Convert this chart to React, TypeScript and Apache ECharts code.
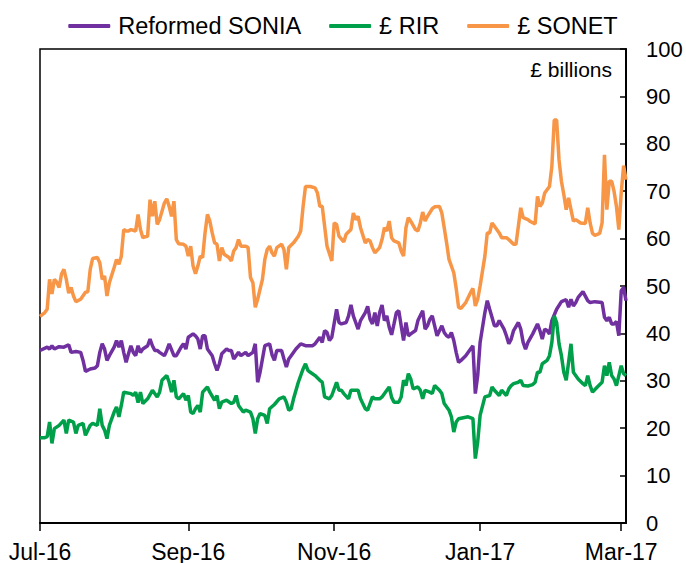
import React, { useEffect, useRef } from "react";
import * as echarts from "echarts";

// day 0 = 1 Jul 2016 ... day 245 = 3 Mar 2017
const totalDays = 246;
const tickDays = [0, 62, 123, 184, 243];
const tickLabels = ["Jul-16", "Sep-16", "Nov-16", "Jan-17", "Mar-17"];

const seriesNames = ["Reformed SONIA", "£ RIR", "£ SONET"];
const seriesColors = ["#7030A0", "#00A04A", "#F79646"];

const soniaDays = [0,3,4,5,6,8,10,12,13,15,17,18,19,21,23,24,25,26,27,28,29,31,32,33,34,35,36,37,38,39,40,41,42,43,45,46,47,48,49,50,52,53,54,56,57,59,60,61,62,64,65,66,67,68,69,70,72,73,74,75,76,78,79,80,81,83,84,86,87,89,90,91,92,93,94,96,97,98,99,101,102,103,104,105,107,109,111,112,114,115,117,118,119,120,121,122,124,125,126,128,129,130,131,132,133,134,136,137,138,139,140,141,142,143,144,145,146,147,148,149,150,151,152,153,154,155,157,158,160,161,162,163,164,165,166,168,169,170,171,172,173,174,175,176,178,180,181,182,183,184,186,187,188,190,191,192,194,195,196,197,198,200,201,202,203,204,206,208,209,210,211,212,213,214,216,218,220,221,222,223,224,225,227,229,230,232,235,236,237,238,239,240,241,242,243,244,245];
const soniaValues = [36.4,37.1,36.7,37.4,36.7,37.2,37.1,37.6,36.0,36.2,36.0,34.3,32.0,32.5,32.7,33.2,36.0,37.8,36.7,34.3,35.3,37.1,38.5,37.1,38.5,36.0,33.9,35.7,37.4,36.0,35.3,37.4,36.0,36.7,37.4,38.8,37.4,36.4,36.4,36.0,35.3,36.4,37.8,35.3,35.3,37.1,37.8,36.7,39.2,39.9,39.5,38.8,36.7,39.5,39.5,36.7,35.3,33.6,32.2,33.6,35.7,36.7,36.4,36.4,34.6,36.0,35.3,36.0,35.3,36.0,37.8,29.7,31.8,34.6,37.4,37.8,35.5,34.3,36.4,36.4,34.6,32.9,34.6,35.3,36.7,37.8,37.4,37.4,37.4,37.8,39.2,38.1,40.6,40.2,38.5,39.2,45.1,42.3,42.0,42.3,43.7,46.0,43.7,42.3,40.9,42.7,44.4,45.7,43.0,42.0,44.4,41.6,44.4,46.0,42.7,43.7,41.3,39.7,42.0,44.4,44.8,41.6,38.5,42.3,39.5,39.9,40.6,42.7,44.8,40.9,41.6,43.0,43.7,41.6,39.5,41.6,40.2,39.5,39.2,40.2,38.5,36.0,33.9,34.3,35.3,36.7,37.4,27.3,31.1,38.1,44.4,46.9,45.1,41.6,41.6,42.7,40.9,39.5,37.8,38.8,40.6,42.3,40.9,38.1,36.7,38.1,39.9,42.0,40.6,38.8,40.9,40.6,39.9,42.7,45.1,46.7,47.1,45.5,47.2,45.8,46.5,47.6,48.8,46.9,46.5,46.7,46.5,43.4,42.7,43.4,42.0,42.0,42.5,39.5,49.0,49.7,46.9];

const rirDays = [0,2,3,4,5,6,8,10,11,12,14,15,16,18,19,21,22,24,25,26,27,28,29,31,32,33,34,35,38,39,40,41,42,43,45,47,49,50,51,53,54,55,56,57,58,60,61,62,63,64,65,66,67,68,70,71,73,74,75,76,78,80,81,82,83,85,86,88,89,90,91,92,94,95,96,98,100,102,103,104,105,106,108,110,111,112,113,115,117,118,119,121,122,124,125,126,127,129,130,131,133,134,136,137,139,140,142,143,145,146,147,148,150,151,152,153,154,155,156,158,159,160,161,163,164,165,167,168,169,171,172,173,174,175,177,179,181,182,183,184,186,188,189,190,192,193,195,196,197,198,200,201,202,204,206,207,208,209,210,212,213,214,215,216,217,218,219,220,221,222,223,225,227,228,229,230,231,233,235,236,237,238,239,240,241,242,243,244,245];
const rirValues = [18.0,18.0,18.2,21.3,16.8,19.9,20.6,21.7,18.9,21.7,21.3,18.9,20.6,21.0,18.5,20.6,21.0,20.6,24.1,20.6,19.6,17.8,20.6,23.4,24.5,22.4,24.8,27.6,27.3,26.9,27.6,25.4,27.6,25.2,26.2,28.0,26.6,27.6,30.1,31.1,29.7,27.6,30.1,26.6,26.2,27.3,25.9,26.9,23.4,23.1,24.1,24.8,23.4,27.6,28.7,27.6,25.9,26.9,24.1,25.5,25.9,25.2,25.5,26.9,24.8,23.4,23.8,23.4,22.0,18.9,22.0,23.1,22.7,21.0,24.1,25.0,26.2,26.6,25.5,23.8,24.1,26.2,29.7,32.5,33.6,32.2,31.8,31.1,30.1,29.7,26.6,26.2,26.9,29.7,28.0,28.0,27.3,26.2,28.0,28.0,28.0,26.2,24.1,23.8,26.6,26.2,26.2,26.6,28.0,28.7,26.5,25.5,25.5,26.6,30.1,29.0,31.5,30.4,28.3,28.7,28.0,26.2,28.0,27.6,27.3,29.0,28.0,27.3,25.2,23.8,22.4,19.2,21.3,22.0,22.2,22.4,22.0,13.6,17.1,22.7,26.6,26.9,28.7,28.0,26.9,28.0,26.9,28.3,29.0,29.4,29.7,30.1,29.0,28.9,29.2,29.7,31.8,31.8,33.6,34.3,35.3,38.1,43.7,42.3,37.8,35.3,31.8,30.1,33.9,37.8,31.8,30.4,29.4,29.0,31.1,29.0,27.6,28.7,29.7,33.2,31.1,33.9,31.1,30.4,29.0,31.1,33.2,31.5,31.1];

const sonetDays = [0,2,3,4,5,6,7,8,9,10,11,12,13,14,15,17,19,20,21,22,24,25,26,27,28,29,31,32,33,34,35,36,37,38,40,41,42,43,44,45,46,47,48,49,50,52,53,54,55,56,57,58,60,61,62,63,64,65,66,67,68,69,70,71,72,73,74,75,76,77,79,80,81,82,83,84,86,87,88,89,90,91,93,94,95,96,97,98,99,101,102,103,104,106,108,109,110,111,113,115,116,117,118,119,120,122,123,124,125,127,128,130,131,132,133,134,136,137,138,139,140,142,143,144,145,146,147,148,150,151,152,153,154,155,157,158,159,160,161,162,164,165,167,168,169,170,171,173,174,175,176,178,180,181,182,183,184,186,187,188,189,190,192,193,195,196,198,199,200,201,202,204,205,207,208,209,210,211,213,214,215,216,217,218,219,220,221,222,223,224,226,228,229,230,231,232,234,235,236,237,238,239,240,241,242,243,244,245];
const sonetValues = [43.6,44.4,45.1,51.4,48.3,51.4,50.8,49.7,52.5,53.5,51.4,48.5,49.7,47.9,46.7,47.2,48.7,48.8,53.5,55.8,56.0,54.9,51.4,52.1,47.9,50.7,53.9,55.6,54.6,56.3,61.9,61.6,61.6,61.9,61.6,65.1,61.9,60.2,60.4,60.5,68.2,64.7,67.9,63.0,64.0,67.5,68.4,66.8,64.7,67.9,59.8,58.9,58.8,58.4,56.3,58.4,54.2,52.6,54.2,56.3,56.0,61.2,65.1,63.7,61.2,59.1,58.8,55.3,58.1,56.7,56.0,55.3,57.4,58.1,59.8,58.4,58.4,58.1,51.8,50.7,45.5,47.2,51.4,55.6,57.7,58.4,57.0,56.3,58.1,58.8,57.7,53.5,58.1,59.1,60.5,61.6,66.8,71.0,71.0,70.7,69.6,66.8,66.8,62.6,58.4,55.3,63.3,63.0,60.5,59.3,60.9,61.9,65.4,64.0,64.7,62.3,59.1,59.8,59.5,58.1,57.0,58.1,59.8,62.3,61.6,63.7,60.2,59.5,59.1,57.4,56.3,62.3,64.4,63.7,61.9,61.6,63.3,65.6,63.7,64.7,66.3,66.7,66.8,65.4,62.3,59.1,55.6,52.8,49.5,45.5,45.3,46.5,48.6,49.5,45.8,47.2,50.0,56.3,61.2,61.2,63.3,62.6,61.2,60.2,60.2,59.8,58.8,58.8,62.6,66.5,64.4,64.0,63.6,63.1,68.9,66.8,67.5,69.6,71.0,75.2,85.0,85.0,76.6,72.1,69.3,66.1,68.6,66.1,63.7,64.0,63.3,63.2,66.5,63.3,61.1,60.7,61.1,63.3,77.7,66.1,72.1,72.1,70.0,66.8,61.9,69.6,75.4,72.4];

const FONT = "'Liberation Sans', Arial, sans-serif";

export default function App() {
  const ref = useRef<HTMLDivElement>(null);
  useEffect(() => {
    if (!ref.current) return;
    const chart = echarts.init(ref.current, null, { renderer: "svg" });
    const categories = Array.from({ length: totalDays }, (_, i) => String(i));
    const pair = (days: number[], vals: number[]) => days.map((d, i) => [String(d), vals[i]]);
    const allDays = [soniaDays, rirDays, sonetDays];
    const allVals = [soniaValues, rirValues, sonetValues];
    const isTick = (idx: number) => tickDays.indexOf(idx) >= 0;
    chart.setOption({
      animation: false,
      textStyle: { fontFamily: FONT },
      legend: {
        top: 9,
        left: "center",
        icon: "roundRect",
        itemWidth: 42,
        itemHeight: 4,
        itemGap: 28,
        textStyle: { fontSize: 23.5, color: "#000", fontFamily: FONT, padding: [0, 0, 0, 3] },
        data: seriesNames,
      },
      grid: {
        left: 40,
        right: 60,
        top: 49,
        bottom: 38,
        show: true,
        borderColor: "#000",
        borderWidth: 1.5,
        containLabel: false,
      },
      xAxis: {
        type: "category",
        data: categories,
        boundaryGap: false,
        axisLine: { show: true, lineStyle: { color: "#000", width: 2 } },
        axisTick: {
          show: true,
          interval: (idx: number) => isTick(idx),
          length: 8,
          lineStyle: { color: "#000", width: 1.5 },
        },
        axisLabel: {
          interval: (idx: number) => isTick(idx),
          formatter: (_v: string, idx: number) => tickLabels[tickDays.indexOf(idx)] ?? "",
          fontSize: 23,
          color: "#000",
          margin: 17,
          fontFamily: FONT,
        },
        splitLine: { show: false },
      },
      yAxis: {
        type: "value",
        position: "right",
        min: 0,
        max: 100,
        interval: 10,
        axisLine: { show: true, lineStyle: { color: "#000", width: 2 } },
        axisTick: { show: true, inside: true, length: 6, lineStyle: { color: "#000", width: 1.5 } },
        axisLabel: { fontSize: 22, color: "#000", margin: 20, fontFamily: FONT },
        splitLine: { show: false },
      },
      graphic: [
        {
          type: "text",
          right: 74,
          top: 59,
          style: { text: "£ billions", font: `21px ${FONT}`, fill: "#000" },
        },
      ],
      series: seriesNames.map((name, k) => ({
        name,
        type: "line",
        data: pair(allDays[k], allVals[k]),
        symbol: "none",
        showSymbol: false,
        lineStyle: { color: seriesColors[k], width: 3.5 },
        itemStyle: { color: seriesColors[k] },
        z: 2 + k,
      })),
    });
    return () => chart.dispose();
  }, []);
  return <div ref={ref} style={{ position: "absolute", left: 0, top: 0, width: 686, height: 563 }} />;
}
